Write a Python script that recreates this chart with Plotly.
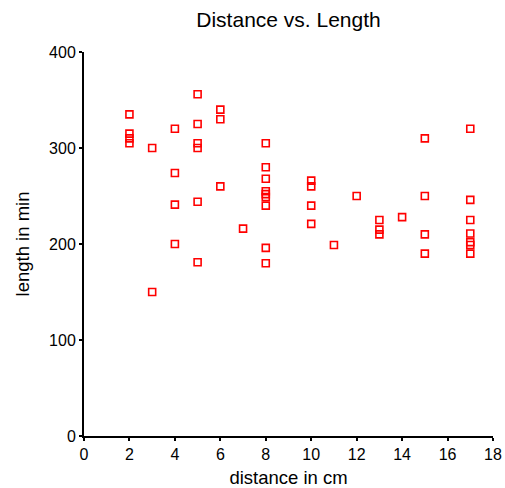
import plotly.graph_objects as go

# distance (cm) and length (min)
distance = [2, 2, 2, 2,
            3, 3,
            4, 4, 4, 4,
            5, 5, 5, 5, 5, 5,
            6, 6, 6,
            7,
            8, 8, 8, 8, 8, 8, 8, 8, 8,
            10, 10, 10, 10,
            11,
            12,
            13, 13, 13,
            14,
            15, 15, 15, 15,
            17, 17, 17, 17, 17, 17, 17]
length = [335, 315, 310, 305,
          300, 150,
          320, 274, 241, 200,
          356, 325, 305, 300, 244, 181,
          340, 330, 260,
          216,
          305, 280, 268, 255, 252, 249, 240, 196, 180,
          266, 260, 240, 221,
          199,
          250,
          225, 215, 210,
          228,
          310, 250, 210, 190,
          320, 246, 225, 211, 202, 199, 190]

x_ticks = [0, 2, 4, 6, 8, 10, 12, 14, 16, 18]
y_ticks = [0, 100, 200, 300, 400]

FONT = "Liberation Sans, Arial, Helvetica, sans-serif"

fig = go.Figure()
fig.add_trace(go.Scatter(
    x=distance, y=length, mode="markers",
    marker=dict(symbol="square-open", size=7, color="#ff0000",
                line=dict(color="#ff0000", width=1.6)),
    showlegend=False, cliponaxis=False,
))

axis_common = dict(
    showgrid=False, zeroline=False, showline=True, linecolor="black",
    linewidth=2, ticks="outside", ticklen=3, tickwidth=2, tickcolor="black",
    tickfont=dict(family=FONT, size=16, color="black"), automargin=False,
)

fig.update_layout(
    width=505, height=488,
    margin=dict(l=84, r=12, t=52, b=52),
    paper_bgcolor="white", plot_bgcolor="white",
    font=dict(family=FONT, color="black"),
    title=dict(text="Distance vs. Length", x=(84 + 493) / 2 / 505, xanchor="center",
               y=1 - 20 / 488, yanchor="middle", yref="container",
               font=dict(family=FONT, size=21, color="black"), automargin=False),
    xaxis=dict(range=[0, 18], tickvals=x_ticks, ticktext=[str(v) for v in x_ticks],
               title=dict(text="distance in cm", font=dict(family=FONT, size=18.5), standoff=14),
               **axis_common),
    yaxis=dict(range=[0, 400], tickvals=y_ticks, ticktext=[str(v) for v in y_ticks],
               title=dict(text="length in min", font=dict(family=FONT, size=18.5), standoff=15),
               **axis_common),
)

fig.write_html("out.html")
